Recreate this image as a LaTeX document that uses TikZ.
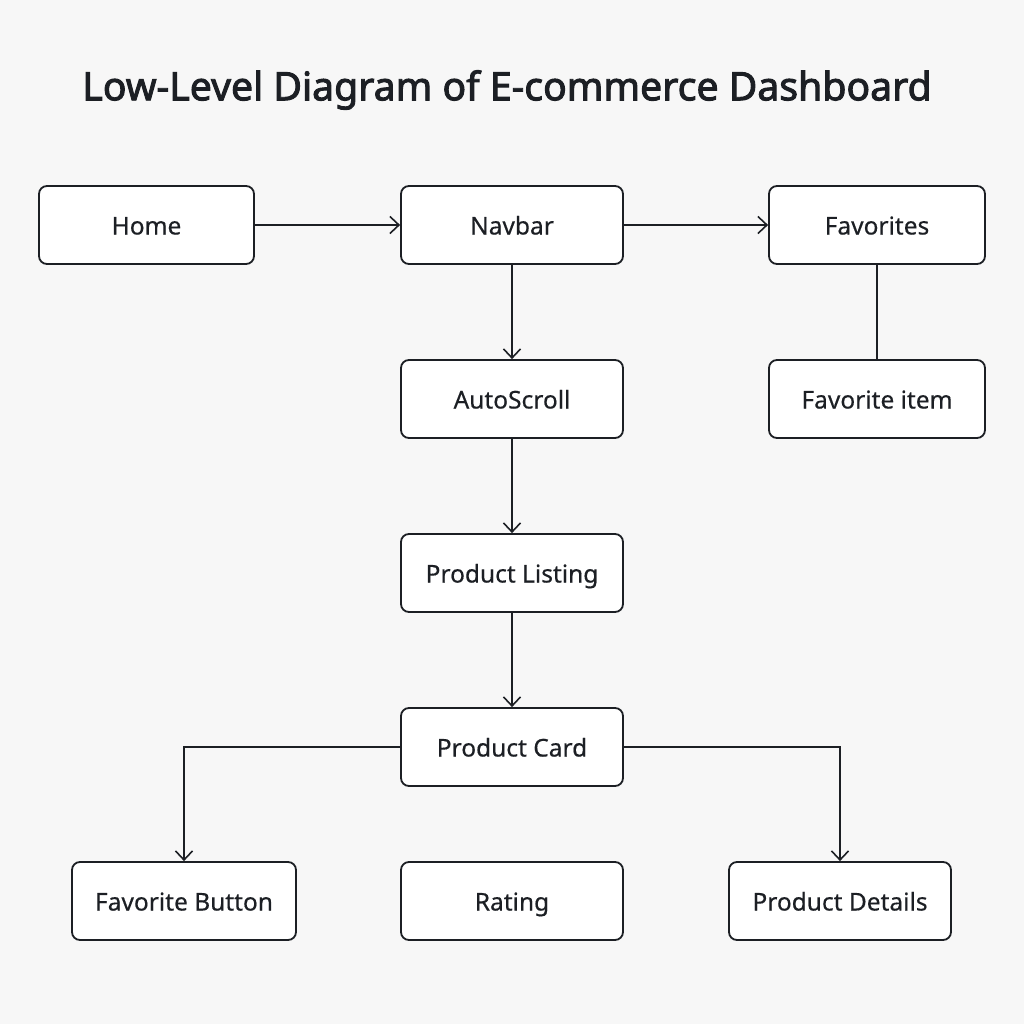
\documentclass[tikz,border=0pt]{standalone}
\usepackage{fontspec}
\setmainfont{Noto Sans}[FakeBold=0.4]
\newfontfamily\titlefont{Noto Sans}[FakeBold=2.4]
\usetikzlibrary{arrows.meta}
\definecolor{bg}{HTML}{F7F7F7}
\definecolor{ink}{HTML}{1C1F24}
\tikzset{
  box/.style={draw=ink, fill=white, line width=1.8pt, rounded corners=8pt,
    minimum height=78pt, minimum width=222pt, inner sep=0pt,
    text height=21pt, text depth=2pt,
    text=ink, font=\fontsize{24.5}{28}\selectfont\bfseries},
  conn/.style={draw=ink, line width=1.6pt},
  arr/.style={conn, -{Straight Barb[length=9pt,width=17pt,line width=1.6pt]}}
}
\begin{document}
\begin{tikzpicture}[x=1pt,y=-1pt]
\useasboundingbox[fill=bg] (0,0) rectangle (1024,1024);
\node[text=ink, font=\titlefont\fontsize{39.2}{44}\selectfont\bfseries] (title) at (507,90) {Low-Level Diagram of E-commerce Dashboard};
\node[box, minimum width=215pt] (home) at (146.5,225) {Home};
\node[box] (nav) at (512,225) {Navbar};
\node[box, minimum width=216pt] (fav) at (877,225) {Favorites};
\node[box] (auto) at (512,399) {AutoScroll};
\node[box, minimum width=216pt] (favitem) at (877,399) {Favorite item};
\node[box] (list) at (512,573) {Product Listing};
\node[box] (card) at (512,747) {Product Card};
\node[box, minimum width=224pt] (favbtn) at (184,901) {Favorite Button};
\node[box] (rating) at (512,901) {Rating};
\node[box] (details) at (840,901) {Product Details};
\draw[arr] (home) -- (nav);
\draw[arr] (nav) -- (fav);
\draw[arr] (nav) -- (auto);
\draw[conn] (fav) -- (favitem);
\draw[arr] (auto) -- (list);
\draw[arr] (list) -- (card);
\draw[arr] (card.west) -| (favbtn.north);
\draw[arr] (card.east) -| (details.north);
\end{tikzpicture}
\end{document}
